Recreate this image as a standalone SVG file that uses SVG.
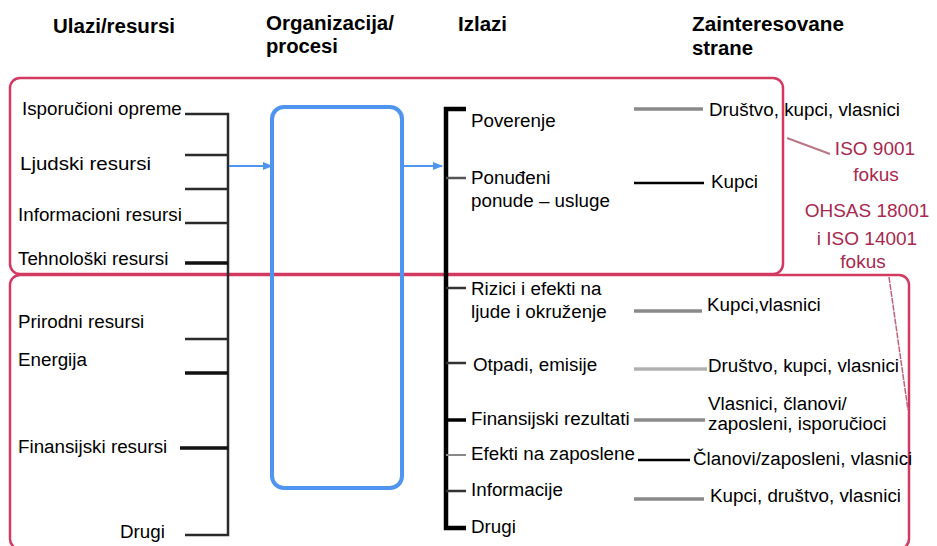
<svg xmlns="http://www.w3.org/2000/svg" width="937" height="546" viewBox="0 0 937 546">
<defs>
<style>
.h{font-family:"Liberation Sans",Arial,sans-serif;font-weight:bold;font-size:20px;fill:#000}
.t{font-family:"Liberation Sans",Arial,sans-serif;font-size:18.8px;fill:#000}
.r{font-family:"Liberation Sans",Arial,sans-serif;font-size:19px;fill:#a8284f;text-anchor:middle}
.frame{fill:none;stroke:#d23a62;stroke-width:2.5}
.tick{stroke:#2a2a2a;stroke-width:2.5;fill:none}
.thick{stroke:#111;stroke-width:3.5;fill:none}
.gray{stroke:#8a8a8a;stroke-width:3.5}
.lgray{stroke:#b0b0b0;stroke-width:3.5}
.blk{stroke:#000;stroke-width:2.5}
.blue{stroke:#4f95ef;stroke-width:2;fill:none}
</style>
<marker id="ah" markerWidth="10" markerHeight="10" refX="9" refY="5" orient="auto" markerUnits="userSpaceOnUse">
<path d="M0,1 L10,5 L0,9 Z" fill="#4f95ef"/>
</marker>
</defs>
<rect width="937" height="546" fill="#fff"/>

<g id="headers">
<text class="h" x="53" y="33" textLength="122" lengthAdjust="spacingAndGlyphs">Ulazi/resursi</text>
<text class="h" x="266" y="30" textLength="128" lengthAdjust="spacingAndGlyphs">Organizacija/</text>
<text class="h" x="266" y="53" textLength="72" lengthAdjust="spacingAndGlyphs">procesi</text>
<text class="h" x="458" y="31" textLength="49" lengthAdjust="spacingAndGlyphs">Izlazi</text>
<text class="h" x="692" y="31" textLength="152" lengthAdjust="spacingAndGlyphs">Zainteresovane</text>
<text class="h" x="692" y="55" textLength="61" lengthAdjust="spacingAndGlyphs">strane</text>
</g>

<g id="frames">
<rect class="frame" x="10" y="78" width="773" height="196" rx="10"/>
<rect class="frame" x="10" y="275" width="899" height="274" rx="10"/>
<line x1="787" y1="138" x2="830" y2="154" stroke="#b87886" stroke-width="2"/>
<line x1="889" y1="277" x2="908" y2="410" stroke="#c0607c" stroke-width="1.5" stroke-dasharray="6,1"/>
</g>

<g id="focus-labels">
<text class="r" x="875" y="155">ISO 9001</text>
<text class="r" x="876" y="181">fokus</text>
<text class="r" x="867" y="217">OHSAS 18001</text>
<text class="r" x="867" y="245">i ISO 14001</text>
<text class="r" x="863" y="268">fokus</text>
</g>

<g id="inputs">
<text class="t" x="22" y="115">Isporučioni opreme</text>
<text class="t" x="20" y="170" textLength="131" lengthAdjust="spacingAndGlyphs">Ljudski resursi</text>
<text class="t" x="18" y="221">Informacioni resursi</text>
<text class="t" x="18" y="265">Tehnološki resursi</text>
<text class="t" x="18" y="328">Prirodni resursi</text>
<text class="t" x="18" y="366">Energija</text>
<text class="t" x="18" y="453">Finansijski resursi</text>
<text class="t" x="120" y="538">Drugi</text>
</g>

<g id="process">
<rect x="272" y="107" width="130" height="381" rx="12" fill="none" stroke="#4f95ef" stroke-width="4"/>
</g>

<g id="outputs">
<text class="t" x="471" y="127">Poverenje</text>
<text class="t" x="471" y="184">Ponuđeni</text>
<text class="t" x="471" y="207">ponude – usluge</text>
<text class="t" x="471" y="295">Rizici i efekti na</text>
<text class="t" x="471" y="318">ljude i okruženje</text>
<text class="t" x="473" y="371">Otpadi, emisije</text>
<text class="t" x="471" y="425">Finansijski rezultati</text>
<text class="t" x="471" y="460">Efekti na zaposlene</text>
<text class="t" x="471" y="496">Informacije</text>
<text class="t" x="471" y="533">Drugi</text>
</g>

<g id="stakeholders">
<text class="t" x="709" y="116">Društvo, kupci, vlasnici</text>
<text class="t" x="711" y="188">Kupci</text>
<text class="t" x="707" y="311">Kupci,vlasnici</text>
<text class="t" x="708" y="372">Društvo, kupci, vlasnici</text>
<text class="t" x="708" y="410">Vlasnici, članovi/</text>
<text class="t" x="708" y="430">zaposleni, isporučioci</text>
<text class="t" x="693" y="465">Članovi/zaposleni, vlasnici</text>
<text class="t" x="710" y="502">Kupci, društvo, vlasnici</text>
</g>

<g id="connectors">
<polyline class="tick" points="185,114 228,114 228,535 185,535"/>
<line class="tick" x1="185" y1="155" x2="228" y2="155"/>
<line class="tick" x1="185" y1="189" x2="228" y2="189"/>
<line class="tick" x1="185" y1="223" x2="228" y2="223"/>
<line class="thick" x1="185" y1="263" x2="228" y2="263"/>
<line class="tick" x1="185" y1="339" x2="228" y2="339"/>
<line class="thick" x1="185" y1="373" x2="228" y2="373"/>
<line class="thick" x1="180" y1="448" x2="228" y2="448"/>
<line class="blue" x1="229" y1="166" x2="272" y2="166" marker-end="url(#ah)"/>
<line class="blue" x1="403" y1="166" x2="442" y2="166" marker-end="url(#ah)"/>
<polyline points="466,109 446,109 446,528 466,528" fill="none" stroke="#000" stroke-width="4.5"/>
<line x1="446" y1="178" x2="466" y2="178" stroke="#555" stroke-width="2.5"/>
<line x1="446" y1="288" x2="466" y2="288" stroke="#333" stroke-width="2.5"/>
<line x1="446" y1="363" x2="466" y2="363" stroke="#333" stroke-width="2.5"/>
<line x1="446" y1="420" x2="466" y2="420" stroke="#000" stroke-width="3.5"/>
<line x1="446" y1="455" x2="466" y2="455" stroke="#888" stroke-width="2"/>
<line x1="446" y1="491" x2="466" y2="491" stroke="#333" stroke-width="2.5"/>
<line class="gray" x1="634" y1="109" x2="703" y2="109"/>
<line class="blk" x1="634" y1="183" x2="704" y2="183"/>
<line class="gray" x1="634" y1="311" x2="702" y2="311"/>
<line class="lgray" x1="634" y1="369" x2="707" y2="369"/>
<line class="gray" x1="634" y1="420" x2="705" y2="420"/>
<line class="blk" x1="638" y1="460" x2="690" y2="460"/>
<line class="gray" x1="634" y1="499" x2="704" y2="499"/>
</g>
</svg>
